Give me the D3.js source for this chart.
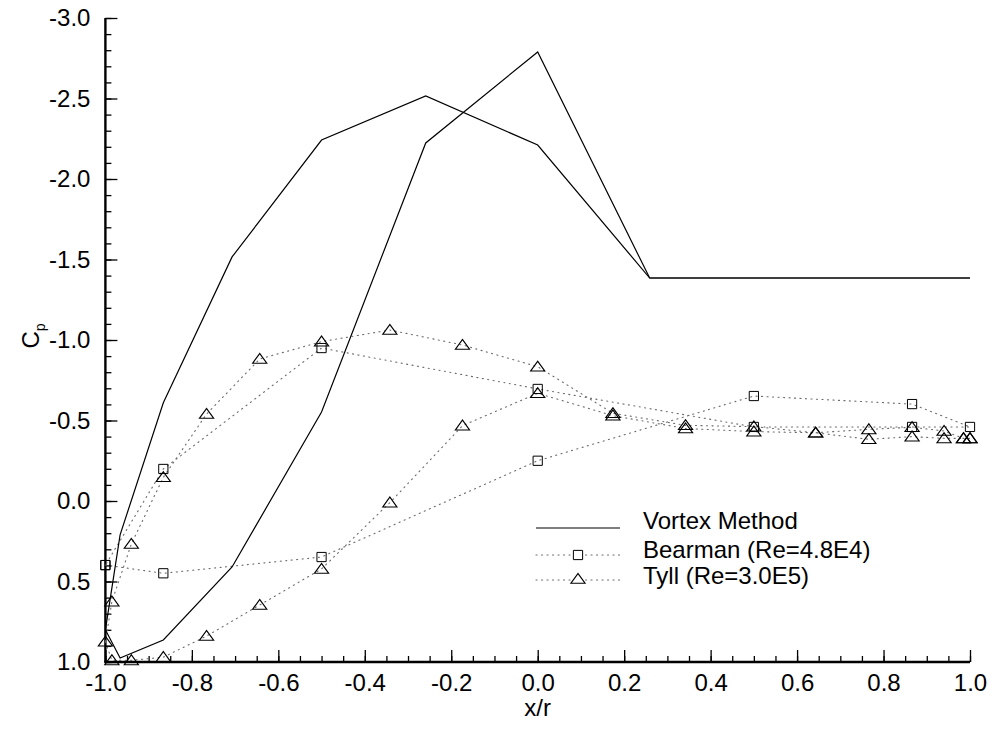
<!DOCTYPE html>
<html>
<head>
<meta charset="utf-8">
<script src="https://cdn.jsdelivr.net/npm/d3@7/dist/d3.min.js"></script>
<style>
  html, body { margin: 0; padding: 0; background: #fff; }
  svg { display: block; font-family: "Liberation Sans", Arial, Helvetica, sans-serif; }
</style>
</head>
<body>
<svg id="chart" width="992" height="746"></svg>
<script>
// Pressure coefficient around a circular cylinder: vortex method vs. experiments.

// Vortex method: one curve per surface, stations at 15 deg steps (x/r = cos θ)
const vortexX = [-1.0, -0.966, -0.866, -0.707, -0.5, -0.259, 0.0, 0.259, 0.5, 0.707, 0.866, 0.966, 1.0];
const vortexUpper = [0.80, 0.21, -0.61, -1.516, -2.242, -2.516, -2.211, -1.385, -1.385, -1.385, -1.385, -1.385, -1.385];
const vortexLower = [0.80, 0.975, 0.863, 0.41, -0.553, -2.224, -2.789, -1.385, -1.385, -1.385, -1.385, -1.385, -1.385];

// Bearman (Re=4.8E4), traced as a closed loop
const bearmanX  = [-1.0, -0.866, -0.5, 0.0, 0.5, 0.866, 1.0, 0.866, 0.5, 0.0, -0.5, -0.866, -1.0];
const bearmanCp = [0.398, 0.449, 0.348, -0.25, -0.652, -0.602, -0.46, -0.46, -0.46, -0.696, -0.95, -0.199, 0.398];

// Tyll (Re=3.0E5), stations at 10 deg steps
const tyllX = [-1.0, -0.985, -0.94, -0.866, -0.766, -0.643, -0.5, -0.342, -0.174, 0.0, 0.174, 0.342, 0.5, 0.643, 0.766, 0.866, 0.94, 0.985, 1.0];
const tyllUpper = [0.874, 0.625, 0.267, -0.147, -0.54, -0.882, -0.99, -1.062, -0.969, -0.834, -0.545, -0.47, -0.462, -0.424, -0.445, -0.458, -0.435, -0.389, -0.389];
const tyllLower = [0.874, 0.99, 0.99, 0.97, 0.839, 0.646, 0.422, 0.01, -0.468, -0.669, -0.53, -0.45, -0.431, -0.424, -0.383, -0.40, -0.389, -0.389, -0.389];

// Axis ticks
const xTickValues = [-1.0, -0.8, -0.6, -0.4, -0.2, 0.0, 0.2, 0.4, 0.6, 0.8, 1.0];
const xTickLabels = ["-1.0", "-0.8", "-0.6", "-0.4", "-0.2", "0.0", "0.2", "0.4", "0.6", "0.8", "1.0"];
const yTickValues = [-3.0, -2.5, -2.0, -1.5, -1.0, -0.5, 0.0, 0.5, 1.0];
const yTickLabels = ["-3.0", "-2.5", "-2.0", "-1.5", "-1.0", "-0.5", "0.0", "0.5", "1.0"];

const legendNames = ["Vortex Method", "Bearman (Re=4.8E4)", "Tyll (Re=3.0E5)"];

const svg = d3.select("#chart");

const x = d3.scaleLinear().domain([-1, 1]).range([105.4, 970]);
const y = d3.scaleLinear().domain([-3, 1]).range([18, 662]);

const zip = (xs, ys) => xs.map((v, i) => [v, ys[i]]);
const line = d3.line().x(d => x(d[0])).y(d => y(d[1]));

const dotted = { stroke: "#6a6a6a", width: 1.1, dash: "1.1,4.4" };
const tickFont = "24px";

// ---- axes ----
const xMinor = d3.range(0, 41).map(i => -1 + i * 0.05);
const yMinor = d3.range(0, 41).map(i => -3 + i * 0.1);

const gx = svg.append("g").attr("transform", `translate(0,${y(1)})`)
  .call(d3.axisBottom(x).tickValues(xMinor).tickSize(-6).tickFormat(""));
gx.select(".domain").remove();
const gxMajor = svg.append("g").attr("transform", `translate(0,${y(1)})`)
  .call(d3.axisBottom(x).tickValues(xTickValues).tickSize(-12).tickPadding(12)
    .tickFormat((d, i) => xTickLabels[i]));

const gy = svg.append("g").attr("transform", `translate(${x(-1)},0)`)
  .call(d3.axisLeft(y).tickValues(yMinor).tickSize(-6).tickFormat(""));
gy.select(".domain").remove();
const gyMajor = svg.append("g").attr("transform", `translate(${x(-1)},0)`)
  .call(d3.axisLeft(y).tickValues(yTickValues).tickSize(-12).tickPadding(15)
    .tickFormat((d, i) => yTickLabels[i]));

svg.selectAll(".tick line").attr("stroke", "#000").attr("stroke-width", 1.3);
// plain axis lines, without outer end ticks
gxMajor.select(".domain").attr("d", `M${x(-1) - 1.2},0H${x(1)}`)
  .attr("stroke", "#000").attr("stroke-width", 2.4);
gyMajor.select(".domain").attr("d", `M0,${y(-3)}V${y(1)}`)
  .attr("stroke", "#000").attr("stroke-width", 2.4);

svg.selectAll(".tick text").attr("fill", "#000").style("font-size", tickFont);

// axis titles
svg.append("text").attr("x", x(0)).attr("y", 716).attr("text-anchor", "middle")
  .style("font-size", tickFont).text("x/r");
const cp = svg.append("text").attr("transform", `translate(39,336) rotate(-90)`)
  .attr("text-anchor", "middle").style("font-size", tickFont);
cp.append("tspan").text("C");
cp.append("tspan").attr("dy", 6).style("font-size", "14px").text("p");

// ---- data ----
const plot = svg.append("g");

function dottedPath(data) {
  plot.append("path").datum(data).attr("d", line).attr("fill", "none")
    .attr("stroke", dotted.stroke).attr("stroke-width", dotted.width)
    .attr("stroke-dasharray", dotted.dash).attr("stroke-linecap", "round");
}

const sq = d3.symbol().type(d3.symbolSquare).size(85);
const tri = d3.symbol().type(d3.symbolTriangle).size(56);

// Bearman
dottedPath(zip(bearmanX, bearmanCp));
// Tyll
dottedPath(zip(tyllX, tyllUpper));
dottedPath(zip(tyllX, tyllLower));

// Vortex method
[vortexUpper, vortexLower].forEach(cps => {
  plot.append("path").datum(zip(vortexX, cps)).attr("d", line)
    .attr("fill", "none").attr("stroke", "#000").attr("stroke-width", 1.2);
});

// markers
plot.selectAll(".bm").data(zip(bearmanX, bearmanCp)).join("path")
  .attr("transform", d => `translate(${x(d[0])},${y(d[1])})`)
  .attr("d", sq).attr("fill", "none").attr("stroke", "#000").attr("stroke-width", 1);

plot.selectAll(".ty").data(zip(tyllX, tyllUpper).concat(zip(tyllX, tyllLower).slice(1))).join("path")
  .attr("transform", d => `translate(${x(d[0])},${y(d[1]) + 1}) scale(1.25,1)`)
  .attr("d", tri).attr("fill", "none").attr("stroke", "#000").attr("stroke-width", 1);

// ---- legend ----
const lg = svg.append("g");
const lx0 = 536, lx1 = 620;
const lineY = [528, 555, 580];
const textY = [529, 558, 584];
lg.append("line").attr("x1", lx0).attr("x2", lx1).attr("y1", lineY[0]).attr("y2", lineY[0])
  .attr("stroke", "#000").attr("stroke-width", 1.2);
[1, 2].forEach(i => {
  lg.append("line").attr("x1", lx0).attr("x2", lx1).attr("y1", lineY[i]).attr("y2", lineY[i])
    .attr("stroke", dotted.stroke).attr("stroke-width", dotted.width)
    .attr("stroke-dasharray", dotted.dash).attr("stroke-linecap", "round");
});
lg.append("path").attr("transform", `translate(578,${lineY[1]})`).attr("d", sq)
  .attr("fill", "#fff").attr("stroke", "#000");
lg.append("path").attr("transform", `translate(578,${lineY[2]}) scale(1.25,1)`).attr("d", tri)
  .attr("fill", "#fff").attr("stroke", "#000");
legendNames.forEach((name, i) => {
  lg.append("text").attr("x", 643).attr("y", textY[i])
    .style("font-size", "24px").text(name);
});
</script>
</body>
</html>
